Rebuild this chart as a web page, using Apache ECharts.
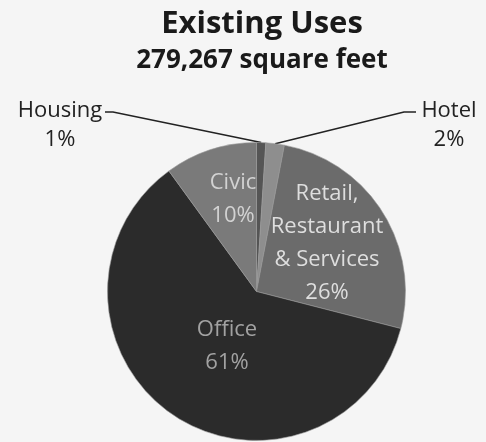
<!DOCTYPE html>
<html>
<head>
<meta charset="utf-8">
<script src="https://cdn.jsdelivr.net/npm/echarts@6/dist/echarts.min.js"></script>
<style>
html,body{margin:0;padding:0;background:#f5f5f5;}
#c{width:486px;height:442px;}
</style>
</head>
<body>
<div id="c"></div>
<script>
const titleText = 'Existing Uses';
const subtitleText = '279,267 square feet';
const categories = ['Housing', 'Hotel', 'Retail,\nRestaurant\n& Services', 'Office', 'Civic'];
const values = [1, 2, 26, 61, 10];
const sliceColors = ['#555555', '#8e8e8e', '#6b6b6b', '#2b2b2b', '#7a7a7a'];
const labelColors = ['#222', '#222', '#dedede', '#a2a2a2', '#d2d2d2'];

const CX = 256.5, CY = 291.5, R = 149;
// label placement (style), per category index
const labelPos = {
  0: {x: 60, y: 125},
  1: {x: 449, y: 125},
  2: {x: 327, y: 243},
  3: {x: 227, y: 346},
  4: {x: 233, y: 199}
};
const total = values.reduce((a, b) => a + b, 0);
function edgePoint(i) {
  let before = 0;
  for (let k = 0; k < i; k++) before += values[k];
  const mid = (before + values[i] / 2) / total * Math.PI * 2;
  return [CX + R * Math.sin(mid), CY - R * Math.cos(mid)];
}

const FONT = 'Open Sans';
const data = categories.map((name, i) => {
  const outside = i < 2;
  return {
    name: name,
    value: values[i],
    itemStyle: {color: sliceColors[i]},
    label: {
      position: outside ? 'outside' : 'inside',
      color: labelColors[i],
      fontSize: 22,
      lineHeight: outside ? 29 : 33
    },
    labelLine: {show: outside}
  };
});

const chart = echarts.init(document.getElementById('c'));
chart.setOption({
  backgroundColor: '#f5f5f5',
  animation: false,
  title: [{
    text: titleText,
    left: 257,
    top: 4,
    textAlign: 'center',
    textStyle: {fontFamily: FONT, fontWeight: 'bold', fontSize: 31, color: '#1a1a1a'}
  }, {
    text: subtitleText,
    left: 257,
    top: 43,
    textAlign: 'center',
    textStyle: {fontFamily: FONT, fontWeight: 'bold', fontSize: 26, color: '#1a1a1a'}
  }],
  series: [{
    type: 'pie',
    center: [CX, CY],
    radius: R,
    startAngle: 90,
    clockwise: true,
    avoidLabelOverlap: false,
    data: data,
    itemStyle: {borderColor: '#9a9a9a', borderWidth: 0.6},
    label: {
      fontFamily: FONT,
      formatter: p => p.name + '\n' + p.value + '%'
    },
    labelLine: {lineStyle: {color: '#222', width: 1.6}},
    labelLayout: function (p) {
      const i = p.dataIndex;
      const pos = labelPos[i];
      const out = {x: pos.x, y: pos.y, align: 'center', verticalAlign: 'middle'};
      if (i === 0) {
        out.labelLinePoints = [edgePoint(0), [113, 112], [105, 112]];
      } else if (i === 1) {
        out.labelLinePoints = [edgePoint(1), [404, 112], [416, 112]];
      }
      return out;
    }
  }]
});
</script>
</body>
</html>
